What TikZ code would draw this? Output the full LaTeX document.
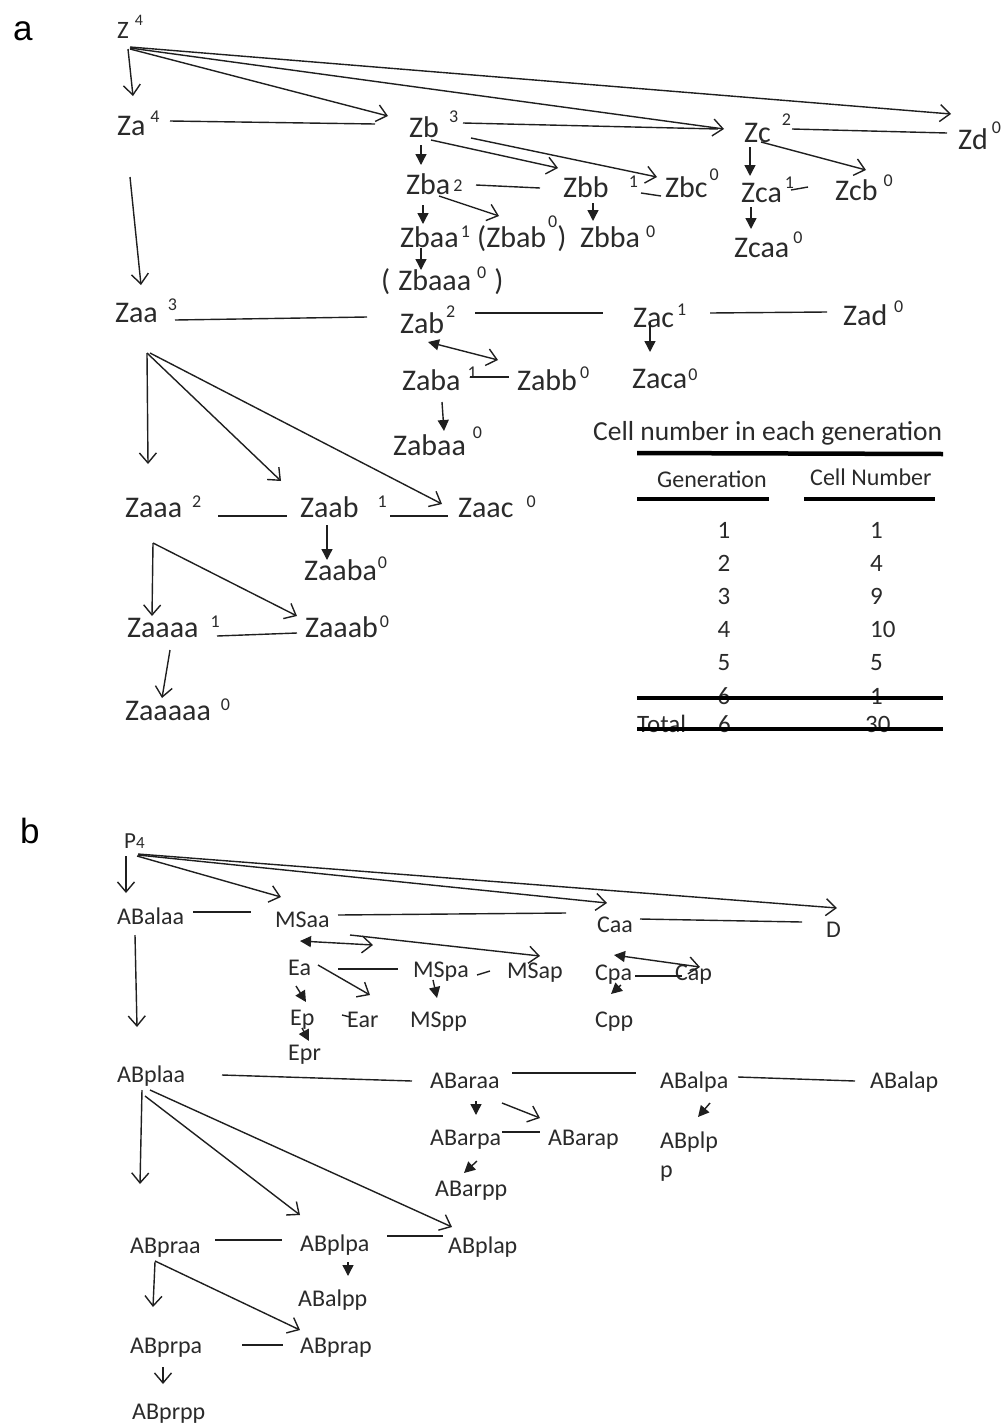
\documentclass[tikz,border=0pt]{standalone}
\usepackage{fontspec}
\setmainfont{Carlito}
\newfontfamily\labfont{Liberation Sans}
\usetikzlibrary{arrows.meta}
\definecolor{txt}{HTML}{2A2A2A}
\definecolor{lc}{HTML}{1F1F1F}
\newcommand{\supx}[3]{\hspace{#1pt}\raisebox{#2pt}{\fontsize{18}{18}\selectfont #3}}
\begin{document}
\begin{tikzpicture}[x=1pt,y=-1pt,
 na/.style={anchor=base west,inner sep=0pt,text=txt,font=\fontsize{30}{36}\selectfont},
 nb/.style={anchor=base west,inner sep=0pt,text=txt,font=\fontsize{24}{29}\selectfont},
 td/.style={anchor=base,inner sep=0pt,text=txt,font=\fontsize{25}{30}\selectfont},
 lab/.style={anchor=base west,inner sep=0pt,text=black,font=\labfont\fontsize{35}{40}\selectfont},
 ln/.style={draw=lc,line width=1.4pt},
 oa/.style={ln,-{Straight Barb[length=10pt,width=17pt]}},
 fa/.style={ln,-{Triangle[length=11pt,width=11pt]}},
 da/.style={ln,{Triangle[length=11pt,width=11pt]}-{Straight Barb[length=10pt,width=17pt]}},
 tabrule/.style={draw=black,line width=#1},
]
\useasboundingbox (0,0) rectangle (1005,1427);

% ---------------- panel a ----------------
\node[lab] (la) at (13,40) {a};
\node[na,font=\fontsize{25}{29}\selectfont] (z) at (117,38) {Z\hspace{6pt}\raisebox{13pt}{\fontsize{16}{16}\selectfont 4}};
\node[na] (za) at (117,135) {Za\supx{5}{13}{4}};
\node[na] (zb) at (409,137) {Zb\supx{10}{15}{3}};
\node[na] (zc) at (744,142) {Zc\supx{11}{17}{2}};
\node[na] (zd) at (958,149) {Zd\supx{4}{16}{0}};
\node[na] (zba) at (406,194) {Zba\supx{3}{3}{2}};
\node[na] (zbb) at (563,197) {Zbb\supx{20}{10}{1}};
\node[na] (zbc) at (665,197) {Zbc\supx{2}{17}{0}};
\node[na] (zca) at (741,202) {Zca\supx{3}{14}{1}};
\node[na] (zcb) at (835,200) {Zcb\supx{6}{14}{0}};
\node[na] (zbaa) at (400,247) {Zbaa\supx{2}{10}{1}};
\node[na] (zbab) at (477,247) {(Zbab\supx{2}{20}{0})};
\node[na] (zbba) at (580,247) {Zbba\supx{6}{10}{0}};
\node[na] (zcaa) at (734,257) {Zcaa\supx{4}{14}{0}};
\node[na] (zbaaa) at (381,290) {(\hspace{8pt}Zbaaa\supx{6}{12}{0}\hspace{8pt})};
\node[na] (zaa) at (115,322) {Zaa\supx{10}{12}{3}};
\node[na] (zab) at (400,333) {Zab\supx{2}{16}{2}};
\node[na] (zac) at (633,327) {Zac\supx{3}{12}{1}};
\node[na] (zad) at (843,325) {Zad\supx{7}{13}{0}};
\node[na] (zaba) at (402,390) {Zaba\supx{7}{12}{1}};
\node[na] (zabb) at (517,390) {Zabb\supx{3}{12}{0}};
\node[na] (zabaa) at (393,455) {Zabaa\supx{7}{17}{0}};
\node[na] (zaca) at (632,388) {Zaca\supx{1}{8}{0}};
\node[na] (zaaa) at (125,517) {Zaaa\supx{10}{10}{2}};
\node[na] (zaab) at (300,517) {Zaab\supx{19}{10}{1}};
\node[na] (zaac) at (458,517) {Zaac\supx{13}{10}{0}};
\node[na] (zaaba) at (304,580) {Zaaba\supx{1}{12}{0}};
\node[na] (zaaaa) at (127,637) {Zaaaa\supx{12}{10}{1}};
\node[na] (zaaab) at (305,637) {Zaaab\supx{2}{10}{0}};
\node[na] (zaaaaa) at (125,720) {Zaaaaa\supx{10}{10}{0}};

\draw[oa] ([shift={(11,11)}]z.base west) -- ([shift={(16,-39)}]za.base west);
\draw[oa] ([shift={(13,11)}]z.base west) -- ([shift={(-21,-21)}]zb.base west);
\draw[oa] ([shift={(13,10)}]z.base west) -- ([shift={(-20,-13)}]zc.base west);
\draw[oa] ([shift={(13,9)}]z.base west) -- ([shift={(-7,-35)}]zd.base west);
\draw[ln] ([shift={(53,-14)}]za.base west) -- ([shift={(-34,-13)}]zb.base west);
\draw[ln] ([shift={(54,-14)}]zb.base west) -- ([shift={(-26,-13)}]zc.base west);
\draw[ln] ([shift={(48,-13)}]zc.base west) -- ([shift={(-11,-16)}]zd.base west);
\draw[fa] ([shift={(12,8)}]zb.base west) -- ([shift={(15,-29)}]zba.base west);
\draw[oa] ([shift={(22,3)}]zb.base west) -- ([shift={(-5,-29)}]zbb.base west);
\draw[oa] ([shift={(62,1)}]zb.base west) -- ([shift={(-8,-20)}]zbc.base west);
\draw[ln] ([shift={(70,-9)}]zba.base west) -- ([shift={(-23,-9)}]zbb.base west);
\draw[ln] ([shift={(78,-4)}]zbb.base west) -- ([shift={(-4,-1)}]zbc.base west);
\draw[fa] ([shift={(17,11)}]zba.base west) -- ([shift={(23,-23)}]zbaa.base west);
\draw[oa] ([shift={(33,2)}]zba.base west) -- ([shift={(22,-31)}]zbab.base west);
\draw[fa] ([shift={(30,6)}]zbb.base west) -- ([shift={(13,-26)}]zbba.base west);
\draw[fa] ([shift={(21,1)}]zbaa.base west) -- ([shift={(40,-20)}]zbaaa.base west);
\draw[fa] ([shift={(6,5)}]zc.base west) -- ([shift={(9,-26)}]zca.base west);
\draw[oa] ([shift={(17,0)}]zc.base west) -- ([shift={(31,-30)}]zcb.base west);
\draw[ln] ([shift={(50,-12)}]zca.base west) -- ([shift={(-27,-13)}]zcb.base west);
\draw[fa] ([shift={(10,5)}]zca.base west) -- ([shift={(17,-28)}]zcaa.base west);
\draw[oa] ([shift={(13,42)}]za.base west) -- ([shift={(26,-37)}]zaa.base west);
\draw[ln] ([shift={(60,-2)}]zaa.base west) -- ([shift={(-33,-16)}]zab.base west);
\draw[ln] ([shift={(75,-20)}]zab.base west) -- ([shift={(-30,-14)}]zac.base west);
\draw[ln] ([shift={(77,-14)}]zac.base west) -- ([shift={(-16,-13)}]zad.base west);
\draw[da] ([shift={(28,9)}]zab.base west) -- ([shift={(-19,-30)}]zabb.base west);
\draw[ln] ([shift={(68,-13)}]zaba.base west) -- ([shift={(-8,-13)}]zabb.base west);
\draw[fa] ([shift={(40,12)}]zaba.base west) -- ([shift={(51,-24)}]zabaa.base west);
\draw[fa] ([shift={(17,-5)}]zac.base west) -- ([shift={(18,-36)}]zaca.base west);
\draw[oa] ([shift={(32,31)}]zaa.base west) -- ([shift={(23,-53)}]zaaa.base west);
\draw[oa] ([shift={(32,31)}]zaa.base west) -- ([shift={(-19,-36)}]zaab.base west);
\draw[oa] ([shift={(35,31)}]zaa.base west) -- ([shift={(-16,-13)}]zaac.base west);
\draw[ln] ([shift={(93,-1)}]zaaa.base west) -- ([shift={(-13,-1)}]zaab.base west);
\draw[ln] ([shift={(90,-1)}]zaab.base west) -- ([shift={(-10,-1)}]zaac.base west);
\draw[fa] ([shift={(27,8)}]zaab.base west) -- ([shift={(23,-20)}]zaaba.base west);
\draw[oa] ([shift={(28,26)}]zaaa.base west) -- ([shift={(25,-21)}]zaaaa.base west);
\draw[oa] ([shift={(28,26)}]zaaa.base west) -- ([shift={(-8,-21)}]zaaab.base west);
\draw[ln] ([shift={(90,-1)}]zaaaa.base west) -- ([shift={(-8,-4)}]zaaab.base west);
\draw[oa] ([shift={(43,13)}]zaaaa.base west) -- ([shift={(37,-22)}]zaaaaa.base west);

% ---------------- table ----------------
\node[anchor=base west,inner sep=0pt,text=txt,font=\fontsize{27.5}{32}\selectfont] (ttl) at (593,440) {Cell number in each generation};
\node[anchor=base west,inner sep=0pt,text=txt,font=\fontsize{24}{28}\selectfont] (h1) at (657,487) {Generation};
\node[anchor=base west,inner sep=0pt,text=txt,font=\fontsize{24}{28}\selectfont] (h2) at (810,485) {Cell Number};
\node[td] (g1) at (724,538) {1};
\node[td] (g2) at (724,571) {2};
\node[td] (g3) at (724,604) {3};
\node[td] (g4) at (724,637) {4};
\node[td] (g5) at (724,670) {5};
\node[td] (g6) at (724,704) {6};
\node[td,anchor=base west] (c1) at (870,538) {1};
\node[td,anchor=base west] (c2) at (870,571) {4};
\node[td,anchor=base west] (c3) at (870,604) {9};
\node[td,anchor=base west] (c4) at (870,637) {10};
\node[td,anchor=base west] (c5) at (870,670) {5};
\node[td,anchor=base west] (c6) at (870,704) {1};
\node[td,anchor=base west] (tot) at (637,732) {Total};
\node[td,anchor=base west] (tot6) at (718,732) {6};
\node[td,anchor=base west] (tot30) at (865,732) {30};
\draw[tabrule=4.5pt] (637,453) -- (943,454);
\draw[tabrule=3.5pt] (637,499) -- (769,499);
\draw[tabrule=3.5pt] (804,499) -- (935,499);
\draw[tabrule=4pt] (637,698) -- (943,698);
\draw[tabrule=4pt] (637,729) -- (943,729);

% ---------------- panel b ----------------
\node[lab] (lb) at (20,843) {b};
\node[nb,font=\fontsize{23}{28}\selectfont] (p4) at (124,848) {P{\fontsize{17}{17}\selectfont 4}};
\node[nb] (abalaa) at (117,924) {ABalaa};
\node[nb] (msaa) at (275,927) {MSaa};
\node[nb] (caa) at (597,932) {Caa};
\node[nb] (d) at (826,937) {D};
\node[nb] (ea) at (288,975) {Ea};
\node[nb] (mspa) at (413,977) {MSpa};
\node[nb] (msap) at (507,978) {MSap};
\node[nb] (ep) at (290,1025) {Ep};
\node[nb] (ear) at (347,1027) {Ear};
\node[nb] (mspp) at (410,1027) {MSpp};
\node[nb] (epr) at (288,1060) {Epr};
\node[nb] (cpa) at (595,980) {Cpa};
\node[nb] (cap) at (675,980) {Cap};
\node[nb] (cpp) at (595,1027) {Cpp};
\node[nb] (abplaa) at (117,1082) {ABplaa};
\node[nb] (abaraa) at (430,1088) {ABaraa};
\node[nb] (abalpa) at (660,1088) {ABalpa};
\node[nb] (abalap) at (870,1088) {ABalap};
\node[nb] (abarpa) at (430,1145) {ABarpa};
\node[nb] (abarap) at (548,1145) {ABarap};
\node[nb] (abarpp) at (435,1196) {ABarpp};
\node[nb] (abplp) at (660,1148) {\begin{tabular}[t]{@{}l@{}}ABplp\\p\end{tabular}};
\node[nb] (abpraa) at (130,1253) {ABpraa};
\node[nb] (abplpa) at (300,1251) {ABplpa};
\node[nb] (abplap) at (448,1253) {ABplap};
\node[nb] (abalpp) at (298,1306) {ABalpp};
\node[nb] (abprpa) at (130,1353) {ABprpa};
\node[nb] (abprap) at (300,1353) {ABprap};
\node[nb] (abprpp) at (132,1419) {ABprpp};

\draw[oa] ([shift={(2,8)}]p4.base west) -- ([shift={(9,-31)}]abalaa.base west);
\draw[oa] ([shift={(13,8)}]p4.base west) -- ([shift={(6,-30)}]msaa.base west);
\draw[oa] ([shift={(14,7)}]p4.base west) -- ([shift={(10,-29)}]caa.base west);
\draw[oa] ([shift={(14,6)}]p4.base west) -- ([shift={(11,-29)}]d.base west);
\draw[ln] ([shift={(76,-12)}]abalaa.base west) -- ([shift={(-24,-15)}]msaa.base west);
\draw[ln] ([shift={(63,-12)}]msaa.base west) -- ([shift={(-31,-19)}]caa.base west);
\draw[ln] ([shift={(43,-13)}]caa.base west) -- ([shift={(-24,-15)}]d.base west);
\draw[da] ([shift={(25,14)}]msaa.base west) -- ([shift={(-40,-32)}]mspa.base west);
\draw[oa] ([shift={(75,8)}]msaa.base west) -- ([shift={(33,-22)}]msap.base west);
\draw[ln] ([shift={(50,-6)}]ea.base west) -- ([shift={(-15,-8)}]mspa.base west);
\draw[ln] ([shift={(64,-2)}]mspa.base west) -- ([shift={(-17,-7)}]msap.base west);
\draw[oa] ([shift={(30,-10)}]ea.base west) -- ([shift={(23,-32)}]ear.base west);
\draw[ln] ([shift={(-5,-12)}]ear.base west) -- ([shift={(3,-10)}]ear.base west);
\draw[fa] ([shift={(8,11)}]ea.base west) -- ([shift={(16,-23)}]ep.base west);
\draw[fa] ([shift={(12,3)}]ep.base west) -- ([shift={(21,-19)}]epr.base west);
\draw[fa] ([shift={(20,3)}]mspa.base west) -- ([shift={(27,-29)}]mspp.base west);
\draw[da] ([shift={(17,23)}]caa.base west) -- ([shift={(25,-13)}]cap.base west);
\draw[ln] ([shift={(40,-4)}]cpa.base west) -- ([shift={(7,-4)}]cap.base west);
\draw[fa] ([shift={(26,5)}]cpa.base west) -- ([shift={(16,-33)}]cpp.base west);
\draw[oa] ([shift={(18,11)}]abalaa.base west) -- ([shift={(20,-55)}]abplaa.base west);
\draw[ln] ([shift={(105,-7)}]abplaa.base west) -- ([shift={(-18,-7)}]abaraa.base west);
\draw[ln] ([shift={(82,-15)}]abaraa.base west) -- ([shift={(-24,-15)}]abalpa.base west);
\draw[ln] ([shift={(78,-11)}]abalpa.base west) -- ([shift={(-15,-7)}]abalap.base west);
\draw[fa] ([shift={(46,13)}]abaraa.base west) -- ([shift={(46,-30)}]abarpa.base west);
\draw[oa] ([shift={(72,15)}]abaraa.base west) -- ([shift={(-8,-27)}]abarap.base west);
\draw[ln] ([shift={(72,-13)}]abarpa.base west) -- ([shift={(-8,-13)}]abarap.base west);
\draw[fa] ([shift={(47,16)}]abarpa.base west) -- ([shift={(29,-23)}]abarpp.base west);
\draw[fa] ([shift={(50,15)}]abalpa.base west) -- ([shift={(38,-31)}]abplp.base west);
\draw[oa] ([shift={(25,8)}]abplaa.base west) -- ([shift={(10,-69)}]abpraa.base west);
\draw[oa] ([shift={(28,14)}]abplaa.base west) -- ([shift={(0,-36)}]abplpa.base west);
\draw[oa] ([shift={(33,8)}]abplaa.base west) -- ([shift={(4,-26)}]abplap.base west);
\draw[ln] ([shift={(85,-13)}]abpraa.base west) -- ([shift={(-18,-11)}]abplpa.base west);
\draw[ln] ([shift={(87,-15)}]abplpa.base west) -- ([shift={(-5,-17)}]abplap.base west);
\draw[fa] ([shift={(48,11)}]abplpa.base west) -- ([shift={(50,-30)}]abalpp.base west);
\draw[oa] ([shift={(25,9)}]abpraa.base west) -- ([shift={(23,-46)}]abprpa.base west);
\draw[oa] ([shift={(25,8)}]abpraa.base west) -- ([shift={(0,-23)}]abprap.base west);
\draw[ln] ([shift={(112,-8)}]abprpa.base west) -- ([shift={(-17,-8)}]abprap.base west);
\draw[oa] ([shift={(33,14)}]abprpa.base west) -- ([shift={(31,-35)}]abprpp.base west);
\end{tikzpicture}
\end{document}
